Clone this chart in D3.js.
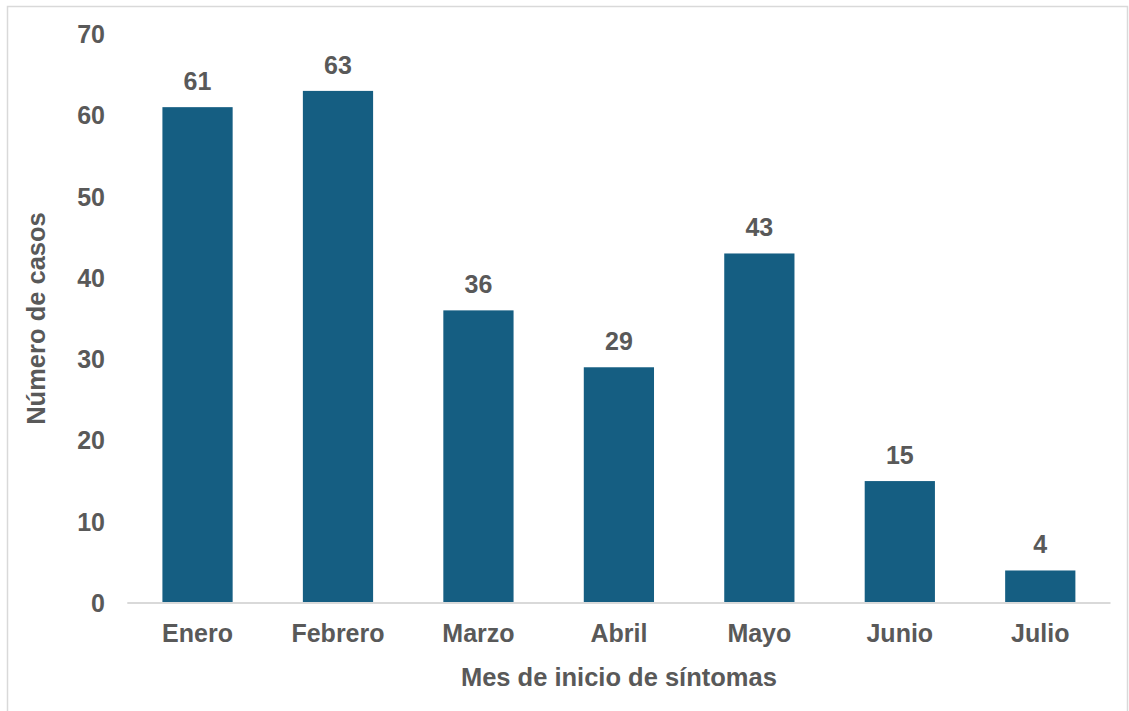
<!DOCTYPE html>
<html>
<head>
<meta charset="utf-8">
<script src="https://cdn.jsdelivr.net/npm/d3@7"></script>
<style>
  body { margin: 0; background: #fff; }
  text { font-family: "Liberation Sans", Arial, sans-serif; font-weight: bold; fill: #595959; }
</style>
</head>
<body>
<div id="chart"></div>
<script>
const months = ['Enero', 'Febrero', 'Marzo', 'Abril', 'Mayo', 'Junio', 'Julio'];
const cases = [61, 63, 36, 29, 43, 15, 4];
const yTicks = [0, 10, 20, 30, 40, 50, 60, 70];

const width = 1129;
const height = 711;
const margin = { top: 34, right: 18.5, bottom: 108, left: 127.3 };

const svg = d3.select('#chart')
  .append('svg')
  .attr('width', width)
  .attr('height', height);

// outer frame
svg.append('rect')
  .attr('x', 7.5)
  .attr('y', 6.5)
  .attr('width', 1120)
  .attr('height', 720)
  .attr('fill', 'none')
  .attr('stroke', '#d9d9d9')
  .attr('stroke-width', 1.5);

const x = d3.scaleBand()
  .domain(months)
  .range([margin.left, width - margin.right])
  .paddingInner(0.5)
  .paddingOuter(0.25);

const y = d3.scaleLinear()
  .domain([0, 70])
  .range([height - margin.bottom, margin.top]);

// bars
svg.append('g')
  .selectAll('rect')
  .data(cases)
  .enter()
  .append('rect')
  .attr('x', (d, i) => x(months[i]))
  .attr('y', d => y(d))
  .attr('width', x.bandwidth())
  .attr('height', d => y(0) - y(d))
  .attr('fill', '#155e82');

// value labels
svg.append('g')
  .selectAll('text')
  .data(cases)
  .enter()
  .append('text')
  .attr('x', (d, i) => x(months[i]) + x.bandwidth() / 2)
  .attr('y', d => y(d) - 17)
  .attr('text-anchor', 'middle')
  .style('font-size', '25px')
  .text(d => d);

// x axis line
svg.append('line')
  .attr('x1', margin.left)
  .attr('x2', width - margin.right)
  .attr('y1', y(0))
  .attr('y2', y(0))
  .attr('stroke', '#d9d9d9')
  .attr('stroke-width', 2);

// y tick labels
svg.append('g')
  .selectAll('text')
  .data(yTicks)
  .enter()
  .append('text')
  .attr('x', 105)
  .attr('y', d => y(d))
  .attr('dy', '0.36em')
  .attr('text-anchor', 'end')
  .style('font-size', '25px')
  .text(d => d);

// x category labels
svg.append('g')
  .selectAll('text')
  .data(months)
  .enter()
  .append('text')
  .attr('x', d => x(d) + x.bandwidth() / 2)
  .attr('y', 642)
  .attr('text-anchor', 'middle')
  .style('font-size', '25px')
  .text(d => d);

// axis titles
svg.append('text')
  .attr('x', (margin.left + width - margin.right) / 2)
  .attr('y', 686)
  .attr('text-anchor', 'middle')
  .style('font-size', '25.5px')
  .text('Mes de inicio de síntomas');

svg.append('text')
  .attr('transform', `translate(45, ${(y(0) + y(70)) / 2}) rotate(-90)`)
  .attr('text-anchor', 'middle')
  .style('font-size', '25.5px')
  .text('Número de casos');
</script>
</body>
</html>
